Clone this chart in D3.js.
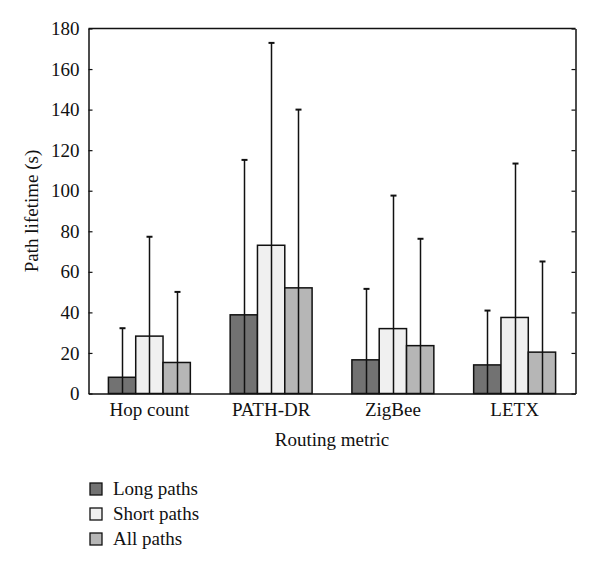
<!DOCTYPE html>
<html>
<head>
<meta charset="utf-8">
<script src="https://cdn.jsdelivr.net/npm/d3@7"></script>
<style>
  body { margin: 0; background: #fff; }
</style>
</head>
<body>
<svg id="chart" width="600" height="571"></svg>
<script>
// Data
const categories = ['Hop count', 'PATH-DR', 'ZigBee', 'LETX'];
const seriesNames = ['Long paths', 'Short paths', 'All paths'];
const seriesColors = ['#727272', '#f0f0f0', '#b6b6b6'];
const meanLong = [8.0, 38.8, 16.6, 14.1];
const meanShort = [28.3, 73.1, 32.0, 37.5];
const meanAll = [15.3, 52.1, 23.6, 20.4];
const errLong = [32.2, 115.2, 51.6, 40.9];
const errShort = [77.3, 172.9, 97.6, 113.4];
const errAll = [50.1, 140.0, 76.3, 65.1];
const yTicks = [0, 20, 40, 60, 80, 100, 120, 140, 160, 180];

const means = [meanLong, meanShort, meanAll];
const errs = [errLong, errShort, errAll];
const FONT = "'Liberation Serif', 'Times New Roman', serif";

const svg = d3.select('#chart');
const plot = { left: 88.5, right: 575.5, top: 28.5, bottom: 393.5 };

// Scales
const x0 = d3.scaleBand().domain(categories)
    .range([plot.left, plot.right])
    .paddingInner(0.327).paddingOuter(0.1635);
const x1 = d3.scaleBand().domain(d3.range(seriesNames.length))
    .range([0, x0.bandwidth()]);
const y = d3.scaleLinear().domain([0, 180]).range([plot.bottom, plot.top]);

// Flatten into bar records
const bars = [];
categories.forEach((c, i) => {
    seriesNames.forEach((s, j) => {
        bars.push({ cat: c, series: j, value: means[j][i], err: errs[j][i] });
    });
});

// Bars
svg.append('g').selectAll('rect').data(bars).enter().append('rect')
    .attr('x', (d) => x0(d.cat) + x1(d.series))
    .attr('y', (d) => y(d.value))
    .attr('width', x1.bandwidth())
    .attr('height', (d) => y(0) - y(d.value))
    .attr('fill', (d) => seriesColors[d.series])
    .attr('stroke', '#111')
    .attr('stroke-width', 1.5);

// Error bars (drawn from the base up to the upper limit)
const eb = svg.append('g').selectAll('g').data(bars).enter().append('g')
    .attr('transform', (d) => `translate(${Math.round(x0(d.cat) + x1(d.series) + x1.bandwidth() / 2) + 0.5},0)`);
eb.append('line')
    .attr('y1', y(0)).attr('y2', (d) => y(d.err))
    .attr('stroke', '#111').attr('stroke-width', 1.5);
eb.append('line')
    .attr('x1', -3).attr('x2', 3)
    .attr('y1', (d) => y(d.err)).attr('y2', (d) => y(d.err))
    .attr('stroke', '#111').attr('stroke-width', 2);

// Axes
const yAxisL = d3.axisLeft(y).tickValues(yTicks).tickSizeInner(-4).tickSizeOuter(0).tickPadding(9);
const yAxisR = d3.axisRight(y).tickValues(yTicks).tickSizeInner(-4).tickSizeOuter(0).tickFormat('');
const xAxis = d3.axisBottom(x0).tickSize(0).tickPadding(9);

svg.append('g').attr('transform', `translate(${plot.left},0)`).call(yAxisL);
svg.append('g').attr('transform', `translate(${plot.right},0)`).call(yAxisR);
svg.append('g').attr('transform', `translate(0,${plot.bottom})`).call(xAxis);
svg.selectAll('.domain').attr('stroke', '#111').attr('stroke-width', 1.5);
svg.selectAll('.tick line').attr('stroke', '#111').attr('stroke-width', 1.2);

// Top frame line
svg.append('line')
    .attr('x1', plot.left).attr('x2', plot.right)
    .attr('y1', plot.top).attr('y2', plot.top)
    .attr('stroke', '#111').attr('stroke-width', 1.5);

// Axis titles
svg.append('text')
    .attr('transform', `translate(38,${(plot.top + plot.bottom) / 2}) rotate(-90)`)
    .attr('text-anchor', 'middle')
    .text('Path lifetime (s)');
svg.append('text')
    .attr('x', (plot.left + plot.right) / 2)
    .attr('y', 446)
    .attr('text-anchor', 'middle')
    .text('Routing metric');

// Legend
const legend = svg.append('g').selectAll('g').data(seriesNames).enter().append('g')
    .attr('transform', (d, i) => `translate(90,${483 + i * 25})`);
legend.append('rect')
    .attr('width', 12).attr('height', 12)
    .attr('fill', (d, i) => seriesColors[i])
    .attr('stroke', '#111').attr('stroke-width', 1.3);
legend.append('text')
    .attr('x', 23).attr('y', 12)
    .text((d) => d);

// Uniform serif text styling
svg.selectAll('text')
    .style('font-family', FONT)
    .style('font-size', '19px')
    .style('fill', '#111');
</script>
</body>
</html>
